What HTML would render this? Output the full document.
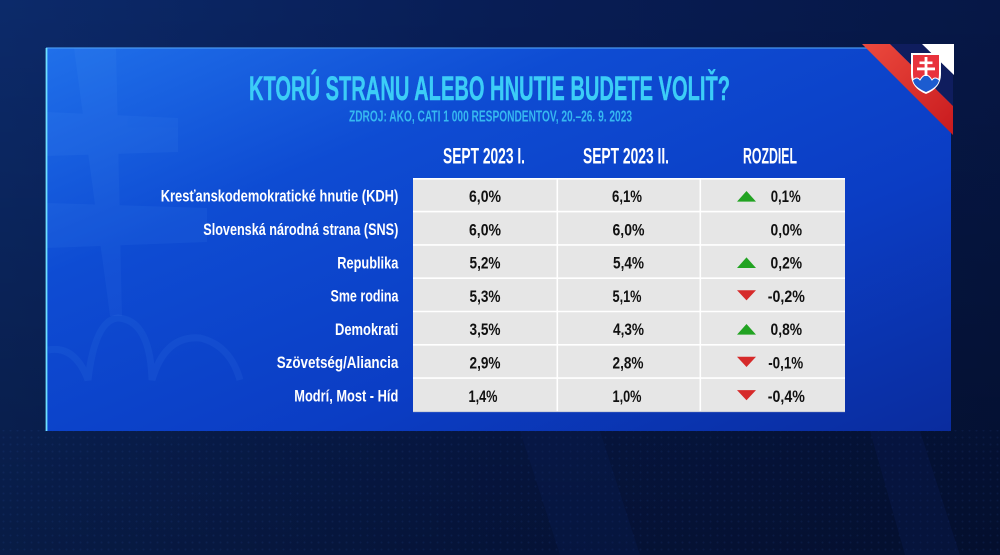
<!DOCTYPE html>
<html><head><meta charset="utf-8"><style>
html,body{margin:0;padding:0;background:#071a4e;}
svg{display:block;}
text{font-family:"Liberation Sans",Arial,sans-serif;font-weight:bold;}
</style></head><body>
<svg width="1000" height="555" viewBox="0 0 1000 555" xmlns="http://www.w3.org/2000/svg">
<defs>
<linearGradient id="bg" x1="0" y1="0" x2="1" y2="0">
<stop offset="0" stop-color="#0c2a6a"/><stop offset="0.5" stop-color="#081d55"/><stop offset="1" stop-color="#061746"/>
</linearGradient>
<linearGradient id="bgv" x1="0" y1="0" x2="0" y2="1">
<stop offset="0" stop-color="#000" stop-opacity="0"/><stop offset="0.8" stop-color="#000" stop-opacity="0.28"/><stop offset="1" stop-color="#000" stop-opacity="0.35"/>
</linearGradient>
<linearGradient id="panel" x1="0" y1="0" x2="1" y2="1">
<stop offset="0" stop-color="#2070ea"/><stop offset="0.3" stop-color="#0e4cd3"/><stop offset="0.65" stop-color="#0b3dc4"/><stop offset="1" stop-color="#0a2c9e"/>
</linearGradient>
<linearGradient id="botline" x1="0" y1="0" x2="1" y2="0">
<stop offset="0" stop-color="#5fd8ff"/><stop offset="0.5" stop-color="#3aa8f0" stop-opacity="0.6"/><stop offset="1" stop-color="#2a6ad8" stop-opacity="0.1"/>
</linearGradient>
<linearGradient id="rib" x1="0" y1="0" x2="1" y2="1">
<stop offset="0" stop-color="#ec4a3e"/><stop offset="1" stop-color="#c81a1e"/>
</linearGradient>
<filter id="glow" x="-50%" y="-50%" width="200%" height="200%"><feGaussianBlur stdDeviation="3"/></filter>
<pattern id="dots" width="7" height="7" patternUnits="userSpaceOnUse"><circle cx="3.5" cy="3.5" r="1" fill="#3a6ad0" opacity="0.3"/></pattern>
</defs>

<rect width="1000" height="555" fill="url(#bg)"/>
<rect width="1000" height="555" fill="url(#bgv)"/>
<rect x="0" y="430" width="1000" height="125" fill="url(#dots)" opacity="0.35"/>
<polygon points="520,431 600,431 640,555 560,555" fill="#0a1f5a" opacity="0.25"/>
<polygon points="870,431 920,431 960,555 905,555" fill="#0a2060" opacity="0.25"/>

<!-- panel -->
<rect x="46" y="48" width="905" height="383" fill="url(#panel)"/>
<!-- watermark double cross -->
<g fill="#6ab0ff" opacity="0.07">
<polygon points="74,48 116,48 122,316 110,316"/>
<polygon points="46,112 178,118 178,152 46,156"/>
<polygon points="46,203 207,208 207,242 46,248"/>
</g>
<g fill="none" stroke="#6ab0ff" stroke-width="7" opacity="0.08">
<path d="M48,350 Q75,345 88,380 Q95,320 118,318 Q150,320 152,380 Q165,335 200,338 Q230,345 240,380"/>
</g>
<!-- borders -->
<line x1="46" y1="48" x2="951" y2="48" stroke="#4a9af2" stroke-width="1.5" opacity="0.8"/>
<line x1="46.5" y1="48" x2="46.5" y2="431" stroke="#5fd8ff" stroke-width="5" filter="url(#glow)" opacity="0.7"/>
<line x1="46" y1="430.5" x2="951" y2="430.5" stroke="url(#botline)" stroke-width="5" filter="url(#glow)" opacity="0.7"/>
<line x1="46.5" y1="48" x2="46.5" y2="431" stroke="#6ee0ff" stroke-width="1.8"/>
<line x1="46" y1="430.2" x2="951" y2="430.2" stroke="url(#botline)" stroke-width="1.8"/>

<!-- corner -->
<polygon points="890,44 953,44 953,106" fill="#0f1d5e"/>
<polygon points="922,44 954,44 954,75" fill="#ffffff"/>
<polygon points="862,44 890,44 953,106 953,135" fill="url(#rib)"/>

<!-- shield -->
<g>
<path d="M911,53 L941,53 L941,74 Q941,88 926,94 Q911,88 911,74 Z" fill="#ffffff"/>
<path d="M913,55 L939,55 L939,74 Q939,86.5 926,92 Q913,86.5 913,74 Z" fill="#e8323c"/>
<path d="M913,80 Q917,76 920,80 Q923,75 926,75 Q929,75 932,80 Q935,76 939,80 L939,74 L939,80 Q938,87 926,92 Q914,87 913,80 Z" fill="#1c5cd0"/>
<path d="M913,80 Q917,76 920,80 Q923,75 926,75 Q929,75 932,80 Q935,76 939,80" fill="none" stroke="#ffffff" stroke-width="1"/>
<rect x="924.6" y="57" width="2.8" height="19" fill="#fff"/>
<rect x="919.5" y="61.5" width="13" height="2.6" fill="#fff"/>
<rect x="917" y="67.5" width="18" height="2.8" fill="#fff"/>
</g>

<!-- title -->
<text x="249" y="100" font-size="34" fill="#3ccdf7" stroke="#3ccdf7" stroke-width="0.4" textLength="481" lengthAdjust="spacingAndGlyphs">KTORÚ STRANU ALEBO HNUTIE BUDETE VOLIŤ?</text>
<text x="349" y="121.7" font-size="15.5" fill="#36b8f0" textLength="283" lengthAdjust="spacingAndGlyphs">ZDROJ: AKO, CATI 1 000 RESPONDENTOV, 20.–26. 9. 2023</text>

<!-- headers -->
<g font-size="22" fill="#ffffff">
<text x="443" y="163.3" textLength="82" lengthAdjust="spacingAndGlyphs">SEPT 2023 I.</text>
<text x="583" y="163.3" textLength="86" lengthAdjust="spacingAndGlyphs">SEPT 2023 II.</text>
<text x="743" y="163.3" textLength="54" lengthAdjust="spacingAndGlyphs">ROZDIEL</text>
</g>

<!-- table -->
<rect x="413" y="178" width="432" height="234" fill="#e6e6e6"/>
<g stroke="#ffffff" stroke-width="1.6">
<line x1="413" y1="178.8" x2="845" y2="178.8"/>
<line x1="413" y1="211.6" x2="845" y2="211.6"/>
<line x1="413" y1="244.9" x2="845" y2="244.9"/>
<line x1="413" y1="278.2" x2="845" y2="278.2"/>
<line x1="413" y1="311.5" x2="845" y2="311.5"/>
<line x1="413" y1="344.8" x2="845" y2="344.8"/>
<line x1="413" y1="378.1" x2="845" y2="378.1"/>
<line x1="557.3" y1="178" x2="557.3" y2="412"/>
<line x1="700.3" y1="178" x2="700.3" y2="412"/>
</g>
<line x1="413" y1="411.6" x2="845" y2="411.6" stroke="#c8ccd8" stroke-width="1"/>

<!-- labels -->
<g font-size="17" fill="#ffffff">
<text x="160.7" y="201.7" textLength="237.6" lengthAdjust="spacingAndGlyphs">Kresťanskodemokratické hnutie (KDH)</text>
<text x="203.3" y="235" textLength="195" lengthAdjust="spacingAndGlyphs">Slovenská národná strana (SNS)</text>
<text x="337.3" y="268.3" textLength="61" lengthAdjust="spacingAndGlyphs">Republika</text>
<text x="330.5" y="301.6" textLength="68" lengthAdjust="spacingAndGlyphs">Sme rodina</text>
<text x="335" y="334.9" textLength="63.3" lengthAdjust="spacingAndGlyphs">Demokrati</text>
<text x="276.7" y="368.2" textLength="121.6" lengthAdjust="spacingAndGlyphs">Szövetség/Aliancia</text>
<text x="294.3" y="401.5" textLength="104" lengthAdjust="spacingAndGlyphs">Modrí, Most - Híd</text>
</g>

<!-- values -->
<g font-size="17" fill="#111111" text-anchor="middle">
<text x="485" y="202" textLength="32" lengthAdjust="spacingAndGlyphs">6,0%</text>
<text x="485" y="235.3" textLength="32" lengthAdjust="spacingAndGlyphs">6,0%</text>
<text x="485" y="268.6" textLength="31" lengthAdjust="spacingAndGlyphs">5,2%</text>
<text x="485" y="301.9" textLength="31" lengthAdjust="spacingAndGlyphs">5,3%</text>
<text x="485" y="335.2" textLength="31" lengthAdjust="spacingAndGlyphs">3,5%</text>
<text x="485" y="368.5" textLength="31" lengthAdjust="spacingAndGlyphs">2,9%</text>
<text x="483" y="401.8" textLength="29" lengthAdjust="spacingAndGlyphs">1,4%</text>

<text x="627" y="202" textLength="30" lengthAdjust="spacingAndGlyphs">6,1%</text>
<text x="628.5" y="235.3" textLength="32" lengthAdjust="spacingAndGlyphs">6,0%</text>
<text x="628.5" y="268.6" textLength="31" lengthAdjust="spacingAndGlyphs">5,4%</text>
<text x="627" y="301.9" textLength="29" lengthAdjust="spacingAndGlyphs">5,1%</text>
<text x="628.5" y="335.2" textLength="31" lengthAdjust="spacingAndGlyphs">4,3%</text>
<text x="628" y="368.5" textLength="31" lengthAdjust="spacingAndGlyphs">2,8%</text>
<text x="627" y="401.8" textLength="29" lengthAdjust="spacingAndGlyphs">1,0%</text>

<text x="785.7" y="202" textLength="30" lengthAdjust="spacingAndGlyphs">0,1%</text>
<text x="786.3" y="235.3" textLength="31.5" lengthAdjust="spacingAndGlyphs">0,0%</text>
<text x="786.3" y="268.6" textLength="31.5" lengthAdjust="spacingAndGlyphs">0,2%</text>
<text x="786.3" y="301.9" textLength="37" lengthAdjust="spacingAndGlyphs">-0,2%</text>
<text x="786.3" y="335.2" textLength="31.5" lengthAdjust="spacingAndGlyphs">0,8%</text>
<text x="785.7" y="368.5" textLength="35" lengthAdjust="spacingAndGlyphs">-0,1%</text>
<text x="786.3" y="401.8" textLength="37" lengthAdjust="spacingAndGlyphs">-0,4%</text>
</g>

<!-- arrows -->
<g fill="#22a322">
<polygon points="737,201.6 756,201.6 746.5,191"/>
<polygon points="737,268 756,268 746.5,257.4"/>
<polygon points="737,334.6 756,334.6 746.5,324"/>
</g>
<g fill="#d62a2a">
<polygon points="737,290.2 756,290.2 746.5,300.4"/>
<polygon points="737,356.8 756,356.8 746.5,367"/>
<polygon points="737,390.1 756,390.1 746.5,400.3"/>
</g>
</svg>
</body></html>
